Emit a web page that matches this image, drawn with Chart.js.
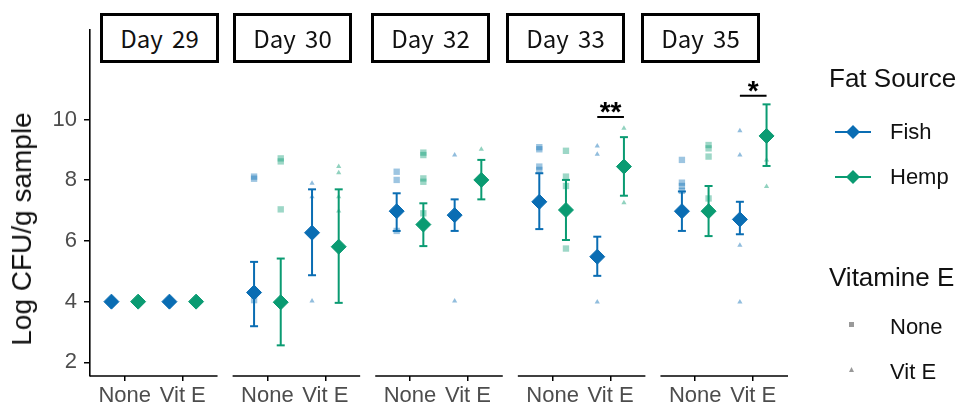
<!DOCTYPE html>
<html>
<head>
<meta charset="utf-8">
<script src="https://cdn.jsdelivr.net/npm/chart.js@4.4.0/dist/chart.umd.min.js"></script>
<style>
  body { margin: 0; background: #fff; }
  #wrap { position: relative; width: 972px; height: 410px; font-family: "Liberation Sans", Arial, sans-serif; }
  #chart { position: absolute; left: 0; top: 0; }
  #ytitle { position: absolute; left: 22px; top: 229px; transform: translate(-50%, -50%) rotate(-90deg);
            font-size: 28px; line-height: 32px; color: #111; white-space: nowrap; }
  .strip { position: absolute; top: 13px; width: 113px; height: 44px; border: 3px solid #000; background: #fff;
           font-family: "Noto Sans CJK KR", "Noto Sans", sans-serif; font-size: 24px; line-height: 44px;
           text-align: center; word-spacing: 4px; color: #111; }
  .lg { position: absolute; color: #111; white-space: nowrap; }
  .lg-title { left: 829px; font-size: 26px; line-height: 30px; }
  .lg-item { left: 834px; font-size: 22px; line-height: 26px; }
  .lg-item svg { position: absolute; left: 0; top: 3px; }
  .lg-item span { position: absolute; left: 56px; top: 0; }
</style>
</head>
<body>
<div id="wrap">
  <canvas id="chart" width="972" height="410"></canvas>
  <div id="ytitle">Log CFU/g sample</div>
  <div id="strips"></div>
  <div id="legend"></div>
</div>
<script>
// facets and x categories
const days = ['Day 29', 'Day 30', 'Day 32', 'Day 33', 'Day 35'];
const vitLabels = ['None', 'Vit E'];
const yTicks = [2, 4, 6, 8, 10];

// group means and error bars per day: [None, Vit E]
const fishMean = [[4.0, 4.0], [4.30, 6.27], [6.98, 6.85], [7.29, 5.48], [6.98, 6.71]];
const fishLow  = [[4.0, 4.0], [3.19, 4.87], [6.33, 6.33], [6.39, 4.85], [6.33, 6.22]];
const fishHigh = [[4.0, 4.0], [5.31, 7.70], [7.57, 7.37], [8.23, 6.14], [7.63, 7.29]];
const hempMean = [[4.0, 4.0], [3.98, 5.81], [6.54, 8.01], [7.02, 8.45], [6.98, 9.46]];
const hempLow  = [[4.0, 4.0], [2.56, 3.96], [5.83, 7.37], [6.03, 7.49], [6.16, 8.47]];
const hempHigh = [[4.0, 4.0], [5.42, 7.70], [7.24, 8.67], [8.01, 9.42], [7.81, 10.50]];

// individual samples per day
const fishRawNone = [[4.0, 4.0], [8.12, 8.05, 4.05], [8.28, 8.01, 6.33], [9.09, 9.02, 8.45, 8.34], [8.67, 7.92, 7.81, 7.65]];
const fishRawVitE = [[4.0, 4.0], [7.90, 7.46, 4.02], [8.83, 4.02], [9.13, 8.86, 3.99], [9.63, 8.83, 5.86, 3.99]];
const hempRawNone = [[4.0, 4.0], [8.72, 8.62, 7.04], [8.91, 8.83, 8.06, 7.95, 6.91], [8.97, 8.12, 7.81, 5.75], [9.16, 9.05, 8.78, 7.40]];
const hempRawVitE = [[4.0, 4.0], [8.45, 8.25, 7.46, 6.99], [9.02], [9.71, 7.26], [8.67, 7.79]];

// significance brackets (Fish vs Hemp, Vit E)
const sigDays = [3, 4];
const sigLabels = ['**', '*'];
const sigHeights = [10.08, 10.78];

const fishColor = '#0a6db3';
const hempColor = '#0a9b72';
const step = 2.46;   // facet spacing on the x scale
const dodge = 0.23;

function xPos(d, t, g) {
    return d * step + 1 + t + (g === 0 ? -dodge : dodge);
}

function meanPoints(means, g) {
    let pts = [];
    means.forEach(function (pair, d) {
        pair.forEach(function (v, t) { pts.push({ x: xPos(d, t, g), y: v }); });
    });
    return pts;
}

function stemPoints(low, high, g) {
    let pts = [];
    low.forEach(function (pair, d) {
        pair.forEach(function (v, t) {
            if (high[d][t] === v) return;
            pts.push({ x: xPos(d, t, g), y: v });
            pts.push({ x: xPos(d, t, g), y: high[d][t] });
            pts.push({ x: xPos(d, t, g), y: null });
        });
    });
    return pts;
}

function capPoints(low, high, g) {
    let pts = [];
    low.forEach(function (pair, d) {
        pair.forEach(function (v, t) {
            if (high[d][t] === v) return;
            pts.push({ x: xPos(d, t, g), y: v });
            pts.push({ x: xPos(d, t, g), y: high[d][t] });
        });
    });
    return pts;
}

function rawPoints(raw, t, g) {
    let pts = [];
    raw.forEach(function (vals, d) {
        vals.forEach(function (v) { pts.push({ x: xPos(d, t, g), y: v }); });
    });
    return pts;
}

let sigLine = [];
sigDays.forEach(function (d, i) {
    sigLine.push({ x: xPos(d, 1, 0), y: sigHeights[i] });
    sigLine.push({ x: xPos(d, 1, 1), y: sigHeights[i] });
    sigLine.push({ x: xPos(d, 1, 1), y: null });
});

const panelAxes = {
    id: 'panelAxes',
    afterDraw: function (chart) {
        const ctx = chart.ctx, xs = chart.scales.x, ys = chart.scales.y;
        const bottom = chart.chartArea.bottom;
        ctx.save();
        ctx.strokeStyle = '#000';
        ctx.lineWidth = 1.6;
        days.forEach(function (day, d) {
            ctx.beginPath();
            ctx.moveTo(xs.getPixelForValue(d * step + 0.4), bottom);
            ctx.lineTo(xs.getPixelForValue(d * step + 2.6), bottom);
            ctx.stroke();
        });
        ctx.fillStyle = '#000';
        ctx.font = 'bold 28px "Liberation Sans"';
        ctx.textAlign = 'center';
        ctx.textBaseline = 'alphabetic';
        sigDays.forEach(function (d, i) {
            const cx = (xs.getPixelForValue(xPos(d, 1, 0)) + xs.getPixelForValue(xPos(d, 1, 1))) / 2;
            ctx.fillText(sigLabels[i], cx, ys.getPixelForValue(sigHeights[i]) + 4);
        });
        ctx.restore();
    }
};

let myChart = document.getElementById('chart').getContext('2d');

let errChart = new Chart(myChart, {
    type: 'scatter',
    data: {
        datasets: [
            { label: 'Fish', data: meanPoints(fishMean, 0), pointStyle: 'rectRot', pointRadius: 7.5,
              backgroundColor: fishColor, borderColor: fishColor, borderWidth: 1 },
            { label: 'Hemp', data: meanPoints(hempMean, 1), pointStyle: 'rectRot', pointRadius: 7.5,
              backgroundColor: hempColor, borderColor: hempColor, borderWidth: 1 },
            { type: 'line', data: sigLine, borderColor: '#000', borderWidth: 2, pointRadius: 0, spanGaps: false },
            { data: capPoints(fishLow, fishHigh, 0), pointStyle: 'line', pointRadius: 4,
              borderColor: fishColor, borderWidth: 2 },
            { data: capPoints(hempLow, hempHigh, 1), pointStyle: 'line', pointRadius: 4,
              borderColor: hempColor, borderWidth: 2 },
            { type: 'line', data: stemPoints(fishLow, fishHigh, 0), borderColor: fishColor, borderWidth: 2,
              pointRadius: 0, spanGaps: false },
            { type: 'line', data: stemPoints(hempLow, hempHigh, 1), borderColor: hempColor, borderWidth: 2,
              pointRadius: 0, spanGaps: false },
            { data: rawPoints(fishRawNone, 0, 0), pointStyle: 'rect', pointRadius: 4.5,
              backgroundColor: 'rgba(10,109,179,0.4)', borderWidth: 0 },
            { data: rawPoints(fishRawVitE, 1, 0), pointStyle: 'triangle', pointRadius: 3,
              backgroundColor: 'rgba(10,109,179,0.45)', borderWidth: 0 },
            { data: rawPoints(hempRawNone, 0, 1), pointStyle: 'rect', pointRadius: 4.5,
              backgroundColor: 'rgba(10,155,114,0.4)', borderWidth: 0 },
            { data: rawPoints(hempRawVitE, 1, 1), pointStyle: 'triangle', pointRadius: 3,
              backgroundColor: 'rgba(10,155,114,0.45)', borderWidth: 0 }
        ]
    },
    options: {
        responsive: false,
        animation: false,
        events: [],
        layout: { padding: { top: 30, right: 184, left: 0, bottom: 0 } },
        plugins: { legend: { display: false }, tooltip: { enabled: false } },
        scales: {
            x: {
                type: 'linear',
                min: 0.4,
                max: 4 * step + 2.6,
                afterBuildTicks: function (scale) {
                    let t = [];
                    days.forEach(function (day, d) { t.push({ value: d * step + 1 }, { value: d * step + 2 }); });
                    scale.ticks = t;
                },
                afterFit: function (scale) { scale.height = 34; },
                ticks: {
                    autoSkip: false, maxRotation: 0, padding: 2,
                    color: '#4d4d4d', font: { size: 22, family: 'Liberation Sans' },
                    callback: function (v, i) { return vitLabels[i % 2]; }
                },
                grid: { drawOnChartArea: false, drawTicks: true, tickLength: 5, color: '#000', lineWidth: 1.5 },
                border: { display: false }
            },
            y: {
                min: 1.55,
                max: 12.95,
                afterBuildTicks: function (scale) {
                    scale.ticks = yTicks.map(function (v) { return { value: v }; });
                },
                afterFit: function (scale) { scale.width = 90; },
                ticks: { color: '#4d4d4d', padding: 7, font: { size: 22, family: 'Liberation Sans' } },
                grid: { drawOnChartArea: false, drawTicks: true, tickLength: 6, color: '#000', lineWidth: 1.5 },
                border: { display: true, color: '#000', width: 1.6 }
            }
        }
    },
    plugins: [panelAxes]
});

// facet strips
const stripLeft = [100, 233, 371, 506, 641];
let stripHtml = '';
days.forEach(function (day, d) {
    stripHtml += '<div class="strip" style="left:' + stripLeft[d] + 'px">' + day + '</div>';
});
document.getElementById('strips').innerHTML = stripHtml;

// legend
const diamond = function (c) {
    return '<svg width="40" height="20"><line x1="1" y1="10" x2="37" y2="10" stroke="' + c + '" stroke-width="2"/>' +
        '<polygon points="19,3 26,10 19,17 12,10" fill="' + c + '"/></svg>';
};
let lg = '';
lg += '<div class="lg lg-title" style="top:63px">Fat Source</div>';
lg += '<div class="lg lg-item" style="top:119px">' + diamond(fishColor) + '<span>Fish</span></div>';
lg += '<div class="lg lg-item" style="top:164px">' + diamond(hempColor) + '<span>Hemp</span></div>';
lg += '<div class="lg lg-title" style="top:262px">Vitamine E</div>';
lg += '<div class="lg lg-item" style="top:314px"><svg width="40" height="20"><rect x="15" y="5" width="5" height="5" fill="#999"/></svg><span>' + vitLabels[0] + '</span></div>';
lg += '<div class="lg lg-item" style="top:359px"><svg width="40" height="20"><polygon points="17.5,5 20,10 15,10" fill="#999"/></svg><span>' + vitLabels[1] + '</span></div>';
document.getElementById('legend').innerHTML = lg;
</script>
</body>
</html>
